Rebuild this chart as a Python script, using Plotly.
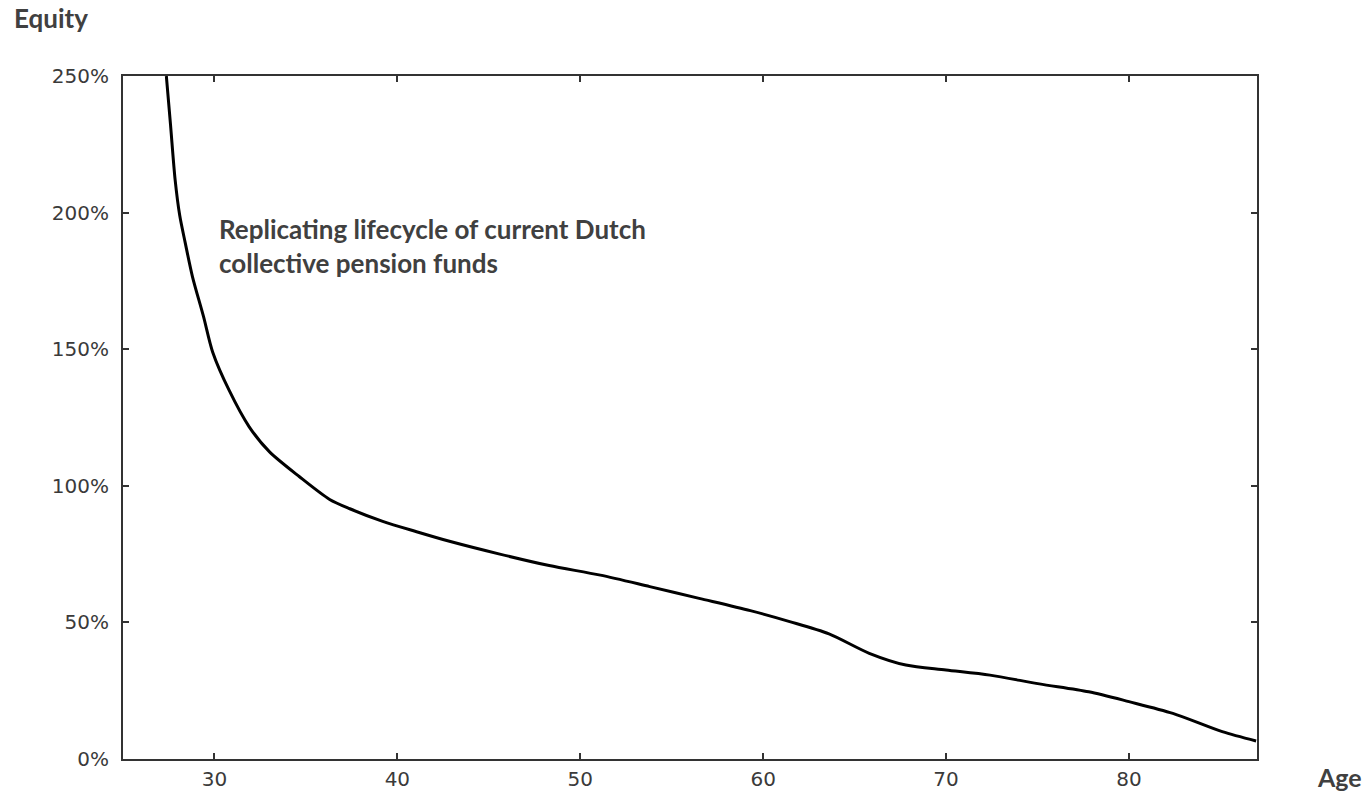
import plotly.graph_objects as go

# Data
age = [27.37, 27.6, 27.85, 28.1, 28.4, 28.8, 29.4, 29.9, 30.8, 31.9, 33.0, 34.65, 36.3, 37.4,
       39.2, 41.05, 42.9, 45.6, 48.3, 51.1, 53.8, 56.5, 59.3, 61.45, 63.6, 65.8, 67.8,
       70.0, 72.4, 75.1, 77.8, 80.0, 82.4, 85.1, 86.95]
equity_pct = [250, 232, 212, 199, 189, 176.5, 162, 149, 135, 121.6, 112.5, 103.3, 95.0, 91.6,
              87.0, 83.2, 79.6, 75.0, 70.8, 67.3, 63.1, 58.8, 54.3, 50.3, 45.8, 38.7, 34.4,
              32.6, 30.7, 27.5, 24.6, 21.0, 16.7, 10.0, 6.6]
x_ticks = [30, 40, 50, 60, 70, 80]
y_ticks = [0, 50, 100, 150, 200, 250]
y_tick_labels = ["0%", "50%", "100%", "150%", "200%", "250%"]

W, H = 1370, 791
L, R, T, B = 123, 1257, 76, 759          # plot area in pixels
pw, ph = R - L, B - T

def px(xp):
    return (xp - L) / pw

def py(yp):
    return (B - yp) / ph

fig = go.Figure()
fig.add_trace(go.Scatter(x=age, y=equity_pct, mode="lines",
                         line=dict(color="black", width=3, shape="spline", smoothing=0.8),
                         showlegend=False, hoverinfo="skip"))

axis_common = dict(showline=True, linecolor="#333333", linewidth=2, mirror="ticks",
                   ticks="inside", ticklen=6, tickwidth=1.5, tickcolor="#333333",
                   showgrid=False, zeroline=False, automargin=False,
                   tickfont=dict(family="DejaVu Sans", size=20, color="#3a3a3a"))

fig.update_xaxes(range=[25, 87], tickvals=x_ticks, ticklabelstandoff=1, **axis_common)
fig.update_yaxes(range=[0, 250], tickvals=y_ticks, ticktext=y_tick_labels,
                 ticklabelstandoff=8, **axis_common)

txt_color = "#404040"
fig.add_annotation(text="<b>Equity</b>", xref="paper", yref="paper",
                   x=px(12), y=py(18), xanchor="left", yanchor="middle", showarrow=False,
                   font=dict(family="Lato", size=26, color=txt_color))
fig.add_annotation(text="<b>Age</b>", xref="paper", yref="paper",
                   x=px(1315), y=py(777), xanchor="left", yanchor="middle", showarrow=False,
                   font=dict(family="Lato", size=25, color=txt_color))
fig.add_annotation(text="<b>Replicating lifecycle of current Dutch<br>collective pension funds</b>",
                   xref="paper", yref="paper", x=px(217), y=py(211), xanchor="left", yanchor="top",
                   align="left", showarrow=False,
                   font=dict(family="Lato", size=26, color=txt_color))

fig.update_layout(width=W, height=H,
                  margin=dict(l=L, r=W - R, t=T, b=H - B, pad=0, autoexpand=False),
                  paper_bgcolor="white", plot_bgcolor="white")

# remove the browser's default 8px body margin so the figure fills the window exactly
fig.write_html("out.html", config={"displayModeBar": False},
               post_script="document.body.style.margin='0';document.body.style.overflow='hidden';")
